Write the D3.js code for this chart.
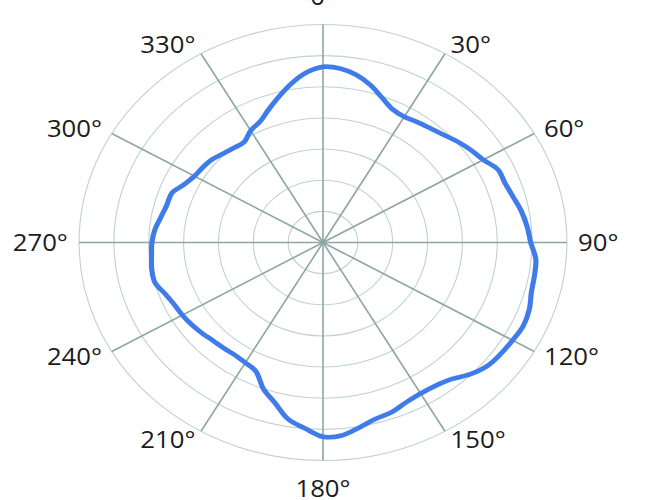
<!DOCTYPE html>
<html>
<head>
<meta charset="utf-8">
<script src="https://d3js.org/d3.v7.min.js"></script>
<style>
    html, body { margin: 0; padding: 0; background: #fff; }
    #chartDiv { width: 645px; height: 500px; }
    .ring { fill: none; stroke: #bfd2ce; stroke-width: 1.1; }
    .spoke { stroke: #8ea6a1; stroke-width: 1.6; }
    .label { font-family: "Open Sans", sans-serif; font-size: 23px; fill: #1c1c1c; }
    .curve { fill: none; stroke: #3f7ce9; stroke-width: 4.6; stroke-linejoin: round; }
</style>
</head>
<body>
<div id="chartDiv"></div>
<script>
    'use strict';

    // angle (degrees, clockwise from top) and value in ring units
    const angles = [0, 5, 10, 15, 20, 25, 30, 35, 40, 45, 50, 55, 60, 65, 70, 75, 80, 85,
        90, 95, 100, 105, 110, 115, 120, 125, 130, 135, 140, 145, 150, 155, 160, 165, 170, 175,
        180, 185, 190, 195, 200, 205, 210, 215, 220, 225, 230, 235, 240, 245, 250, 255, 260, 265,
        270, 275, 280, 285, 290, 295, 300, 305, 310, 315, 320, 325, 330, 335, 340, 345, 350, 355];
    const values = [5.64, 5.61, 5.47, 5.24, 4.95, 4.72, 4.66, 4.72, 4.79, 4.89, 5.04, 5.18,
        5.31, 5.54, 5.56, 5.65, 5.78, 5.88, 5.96, 6.13, 6.16, 6.19, 6.30, 6.34,
        6.28, 6.23, 6.16, 5.98, 5.73, 5.62, 5.60, 5.66, 5.79, 5.86, 6.03, 6.22,
        6.24, 5.99, 5.76, 5.33, 5.00, 4.56, 4.46, 4.41, 4.43, 4.46, 4.53, 4.60,
        4.66, 4.71, 4.82, 4.99, 4.99, 4.94, 4.91, 4.84, 4.72, 4.64, 4.62, 4.40,
        4.26, 4.21, 4.15, 4.04, 3.97, 3.94, 4.15, 4.28, 4.55, 4.86, 5.19, 5.48];

    const rings = [1, 2, 3, 4, 5, 6, 7];
    const spokeAngles = [0, 30, 60, 90, 120, 150, 180, 210, 240, 270, 300, 330];
    const spokeLabels = ['0°', '30°', '60°', '90°', '120°', '150°', '180°', '210°', '240°', '270°', '300°', '330°'];

    const width = 645;
    const height = 500;
    const center = { x: 323, y: 242.5 };
    const outerRadius = 218;
    const stretchX = 1.119; // the picture is wider than tall

    const rScale = d3.scaleLinear().domain([0, 7]).range([0, outerRadius]);
    const rad = d => d * Math.PI / 180;

    const svg = d3.select('#chartDiv')
        .append('svg')
        .attr('width', width)
        .attr('height', height);

    const g = svg.append('g')
        .attr('transform', 'translate(' + center.x + ',' + center.y + ') scale(' + stretchX + ',1)');

    // rings
    g.selectAll('circle.ring')
        .data(rings)
        .enter().append('circle')
        .attr('class', 'ring')
        .attr('r', d => rScale(d))
        .attr('vector-effect', 'non-scaling-stroke');

    // spokes
    g.selectAll('line.spoke')
        .data(spokeAngles)
        .enter().append('line')
        .attr('class', 'spoke')
        .attr('x1', 0).attr('y1', 0)
        .attr('x2', d => rScale(7) * Math.sin(rad(d)))
        .attr('y2', d => -rScale(7) * Math.cos(rad(d)))
        .attr('vector-effect', 'non-scaling-stroke');

    // angle labels
    g.selectAll('text.label')
        .data(spokeAngles)
        .enter().append('text')
        .attr('class', 'label')
        .attr('x', d => {
            const off = (d % 180 === 0) ? 28 : 10;
            return (rScale(7) + off) * Math.sin(rad(d));
        })
        .attr('y', d => {
            const off = (d % 180 === 0) ? 28 : 10;
            return -(rScale(7) + off) * Math.cos(rad(d));
        })
        .attr('dy', '0.36em')
        .attr('text-anchor', d => d % 180 === 0 ? 'middle' : (d < 180 ? 'start' : 'end'))
        .text((d, i) => spokeLabels[i]);

    // data curve
    const data = angles.map((a, i) => [a, values[i]]);

    const radial = d3.lineRadial()
        .angle(d => rad(d[0]))
        .radius(d => rScale(d[1]))
        .curve(d3.curveCatmullRomClosed.alpha(0.5));

    g.append('path')
        .datum(data)
        .attr('class', 'curve')
        .attr('d', radial);
</script>
</body>
</html>
